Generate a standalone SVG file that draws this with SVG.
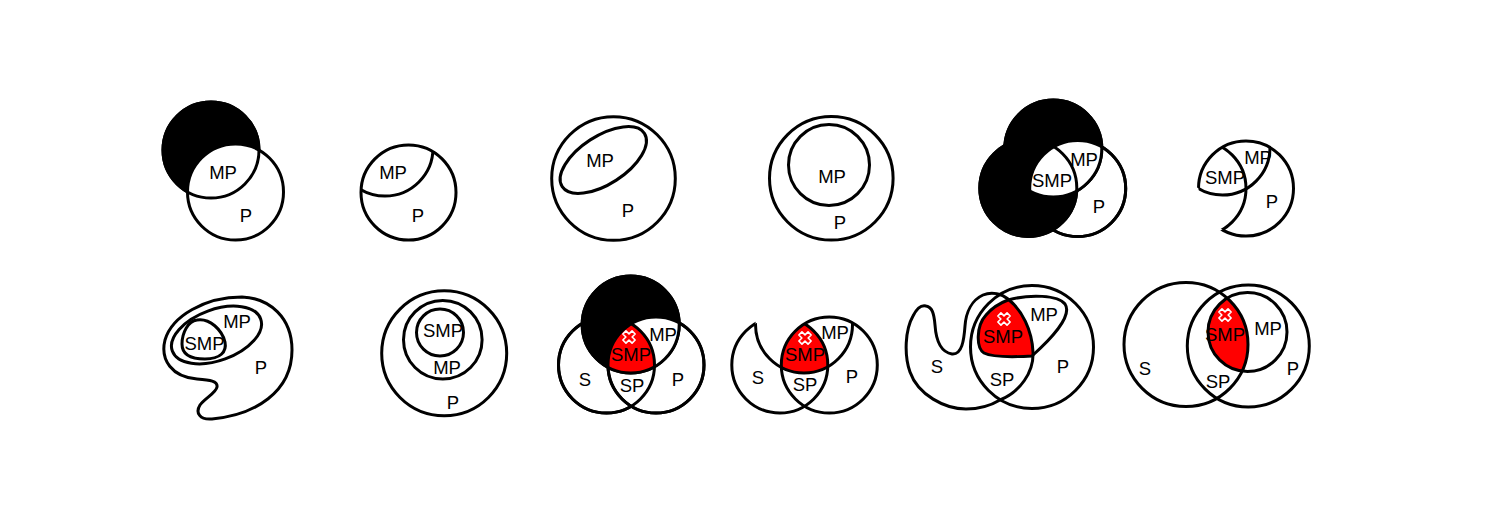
<svg xmlns="http://www.w3.org/2000/svg" width="1500" height="525" viewBox="0 0 1500 525">
<style>
.o{fill:none;stroke:#000;stroke-width:3}
.w{fill:#fff;stroke:#000;stroke-width:3}
.b{fill:#000;stroke:#000;stroke-width:3}
.r{fill:#ff0000}
.t{font-family:"Liberation Sans",Arial,sans-serif;font-size:18.5px;fill:#000;text-anchor:middle}
.x{fill:#ff0000;stroke:#fff;stroke-width:1.6;stroke-linejoin:round}
</style>
<defs>
<path id="cross" class="x" d="M-2.2,-6.5H2.2V-2.2H6.5V2.2H2.2V6.5H-2.2V2.2H-6.5V-2.2H-2.2Z" transform="rotate(45)"/>
<clipPath id="cP2"><circle cx="408.5" cy="192.5" r="47.5"/></clipPath>
<clipPath id="cM5"><circle cx="1053.3" cy="148.5" r="48.5"/></clipPath>
<clipPath id="cP6"><circle cx="1246" cy="188.5" r="47.5"/></clipPath>
<mask id="m6" maskUnits="userSpaceOnUse" x="0" y="0" width="1500" height="525">
<rect x="0" y="0" width="1500" height="525" fill="#fff"/>
<circle cx="1198.5" cy="188.5" r="47.5" fill="#000"/>
<circle cx="1222.5" cy="147.5" r="47.5" fill="#fff"/>
</mask>
<clipPath id="cM9"><circle cx="630.7" cy="324.5" r="48.5"/></clipPath>
<clipPath id="cP9"><circle cx="656" cy="365" r="48"/></clipPath>
<clipPath id="cM10"><circle cx="804" cy="324.5" r="48.5"/></clipPath>
<clipPath id="cP10"><circle cx="829.3" cy="365" r="48"/></clipPath>
<clipPath id="cSP10"><circle cx="779.8" cy="365" r="48"/><circle cx="829.3" cy="365" r="48"/></clipPath>
<mask id="m10" maskUnits="userSpaceOnUse" x="0" y="0" width="1500" height="525">
<rect x="0" y="0" width="1500" height="525" fill="#fff"/>
<circle cx="804" cy="324.5" r="48.5" fill="#000"/>
<circle cx="829.3" cy="365" r="48" fill="#fff"/>
</mask>
<clipPath id="cS11"><path d="M1000,400C990,406 978,409 966,409C945,409 918,395 910,372C904,355 905,330 913,316C917,308 922,305 926,306C932,307 934,313 935,325C936,340 940,352 952,354C962,355 964,340 965,326C966,312 972,300 983,295C992,291 1002,294 1008,299C1022,310 1032,330 1033,352C1034,372 1020,392 1000,400Z"/></clipPath>
<clipPath id="cS12"><circle cx="1186" cy="344.5" r="62"/></clipPath>
</defs>
<rect width="1500" height="525" fill="#fff"/>

<g id="d1">
<circle class="b" cx="211" cy="150" r="48"/>
<circle class="w" cx="235.5" cy="192" r="48"/>
<circle class="o" cx="211" cy="150" r="48"/>
<text class="t" x="223" y="179">MP</text>
<text class="t" x="246" y="222">P</text>
</g>

<g id="d2">
<circle class="w" cx="408.5" cy="192.5" r="47.5"/>
<circle class="o" cx="385" cy="148" r="48" clip-path="url(#cP2)"/>
<text class="t" x="393" y="179">MP</text>
<text class="t" x="418" y="222">P</text>
</g>

<g id="d3">
<circle class="w" cx="613.5" cy="178.5" r="61.8"/>
<ellipse class="o" cx="603.3" cy="160" rx="49" ry="24" transform="rotate(-33 603.3 160)"/>
<text class="t" x="600" y="167">MP</text>
<text class="t" x="628" y="217">P</text>
</g>

<g id="d4">
<circle class="w" cx="831.3" cy="178.3" r="61.8"/>
<circle class="o" cx="829" cy="165" r="40.5"/>
<text class="t" x="832" y="183">MP</text>
<text class="t" x="840" y="229">P</text>
</g>

<g id="d5">
<circle class="w" cx="1077.7" cy="188.5" r="48"/>
<circle class="b" cx="1028.3" cy="188" r="48.5"/>
<circle class="b" cx="1053.3" cy="148.5" r="48.5"/>
<circle fill="#fff" cx="1077.7" cy="188.5" r="48" clip-path="url(#cM5)"/>
<circle class="o" cx="1028.3" cy="188" r="48.5"/>
<circle class="o" cx="1053.3" cy="148.5" r="48.5"/>
<circle class="o" cx="1077.7" cy="188.5" r="48"/>
<text class="t" x="1084" y="166">MP</text>
<text class="t" x="1052" y="187">SMP</text>
<text class="t" x="1099" y="213">P</text>
</g>

<g id="d6">
<circle class="o" cx="1246" cy="188.5" r="47.5" mask="url(#m6)"/>
<circle class="o" cx="1198.5" cy="188.5" r="47.5" clip-path="url(#cP6)"/>
<circle class="o" cx="1222.5" cy="147.5" r="47.5" clip-path="url(#cP6)"/>
<text class="t" x="1258" y="164">MP</text>
<text class="t" x="1225" y="184">SMP</text>
<text class="t" x="1272" y="208">P</text>
</g>

<g id="d7">
<path class="o" d="M242,297C205,297 172,316 165,340C160,360 172,377 197,379C210,380 218,381 217,387C216,393 205,398 200,405C195,413 200,420 212,419C255,415 292,392 292,350C292,318 270,298 242,297Z"/>
<ellipse class="o" cx="216.5" cy="335" rx="47" ry="25.5" transform="rotate(-20 216.5 335)"/>
<path class="o" d="M197,320C210,318 222,330 225,342C227,352 220,359 205,359C192,359 182,355 182,344C182,333 188,321 197,320Z"/>
<text class="t" x="237" y="328">MP</text>
<text class="t" x="204.5" y="350">SMP</text>
<text class="t" x="261" y="374">P</text>
</g>

<g id="d8">
<circle class="w" cx="444.2" cy="353.3" r="62.5"/>
<circle class="o" cx="442.8" cy="339.7" r="39.3"/>
<circle class="o" cx="440" cy="332.5" r="23.5"/>
<text class="t" x="443" y="337">SMP</text>
<text class="t" x="447" y="374">MP</text>
<text class="t" x="453" y="409">P</text>
</g>

<g id="d9">
<circle class="w" cx="606.5" cy="365" r="48"/>
<circle class="w" cx="656" cy="365" r="48"/>
<circle class="b" cx="630.7" cy="324.5" r="48.5"/>
<circle fill="#fff" cx="656" cy="365" r="48" clip-path="url(#cM9)"/>
<g clip-path="url(#cM9)"><circle class="r" cx="606.5" cy="365" r="48" clip-path="url(#cP9)"/></g>
<circle class="o" cx="606.5" cy="365" r="48"/>
<circle class="o" cx="656" cy="365" r="48"/>
<circle class="o" cx="630.7" cy="324.5" r="48.5"/>
<use href="#cross" x="629" y="337"/>
<text class="t" x="663" y="341">MP</text>
<text class="t" x="631" y="361">SMP</text>
<text class="t" x="585" y="386">S</text>
<text class="t" x="632" y="392">SP</text>
<text class="t" x="678" y="386">P</text>
</g>

<g id="d10">
<g clip-path="url(#cM10)"><circle class="r" cx="779.8" cy="365" r="48" clip-path="url(#cP10)"/></g>
<circle class="o" cx="829.3" cy="365" r="48"/>
<circle class="o" cx="779.8" cy="365" r="48" mask="url(#m10)"/>
<circle class="o" cx="804" cy="324.5" r="48.5" clip-path="url(#cSP10)"/>
<use href="#cross" x="805" y="338"/>
<text class="t" x="835" y="339">MP</text>
<text class="t" x="805" y="361">SMP</text>
<text class="t" x="758" y="384">S</text>
<text class="t" x="805" y="391">SP</text>
<text class="t" x="852" y="383">P</text>
</g>

<g id="d11">
<path class="r" clip-path="url(#cS11)" d="M1008,300C1030,294 1058,295 1065,304C1073,316 1050,340 1032,356C1015,357 992,357 984,353C976,348 976,326 986,315C992,308 1000,303 1008,300Z"/>
<circle class="o" cx="1032" cy="347" r="61.5"/>
<path class="o" d="M1000,400C990,406 978,409 966,409C945,409 918,395 910,372C904,355 905,330 913,316C917,308 922,305 926,306C932,307 934,313 935,325C936,340 940,352 952,354C962,355 964,340 965,326C966,312 972,300 983,295C992,291 1002,294 1008,299C1022,310 1032,330 1033,352C1034,372 1020,392 1000,400Z"/>
<path class="o" d="M1008,300C1030,294 1058,295 1065,304C1073,316 1050,340 1032,356C1015,357 992,357 984,353C976,348 976,326 986,315C992,308 1000,303 1008,300Z"/>
<use href="#cross" x="1004" y="319"/>
<text class="t" x="1044" y="321">MP</text>
<text class="t" x="1003" y="343">SMP</text>
<text class="t" x="937" y="373">S</text>
<text class="t" x="1002" y="386">SP</text>
<text class="t" x="1063" y="373">P</text>
</g>

<g id="d12">
<circle class="r" cx="1247.5" cy="332" r="39.5" clip-path="url(#cS12)"/>
<circle class="o" cx="1186" cy="344.5" r="62"/>
<circle class="o" cx="1248.3" cy="346" r="61"/>
<circle class="o" cx="1247.5" cy="332" r="39.5"/>
<use href="#cross" x="1225" y="315"/>
<text class="t" x="1268" y="335">MP</text>
<text class="t" x="1225" y="341">SMP</text>
<text class="t" x="1145" y="375">S</text>
<text class="t" x="1218" y="388">SP</text>
<text class="t" x="1293" y="375">P</text>
</g>
</svg>
